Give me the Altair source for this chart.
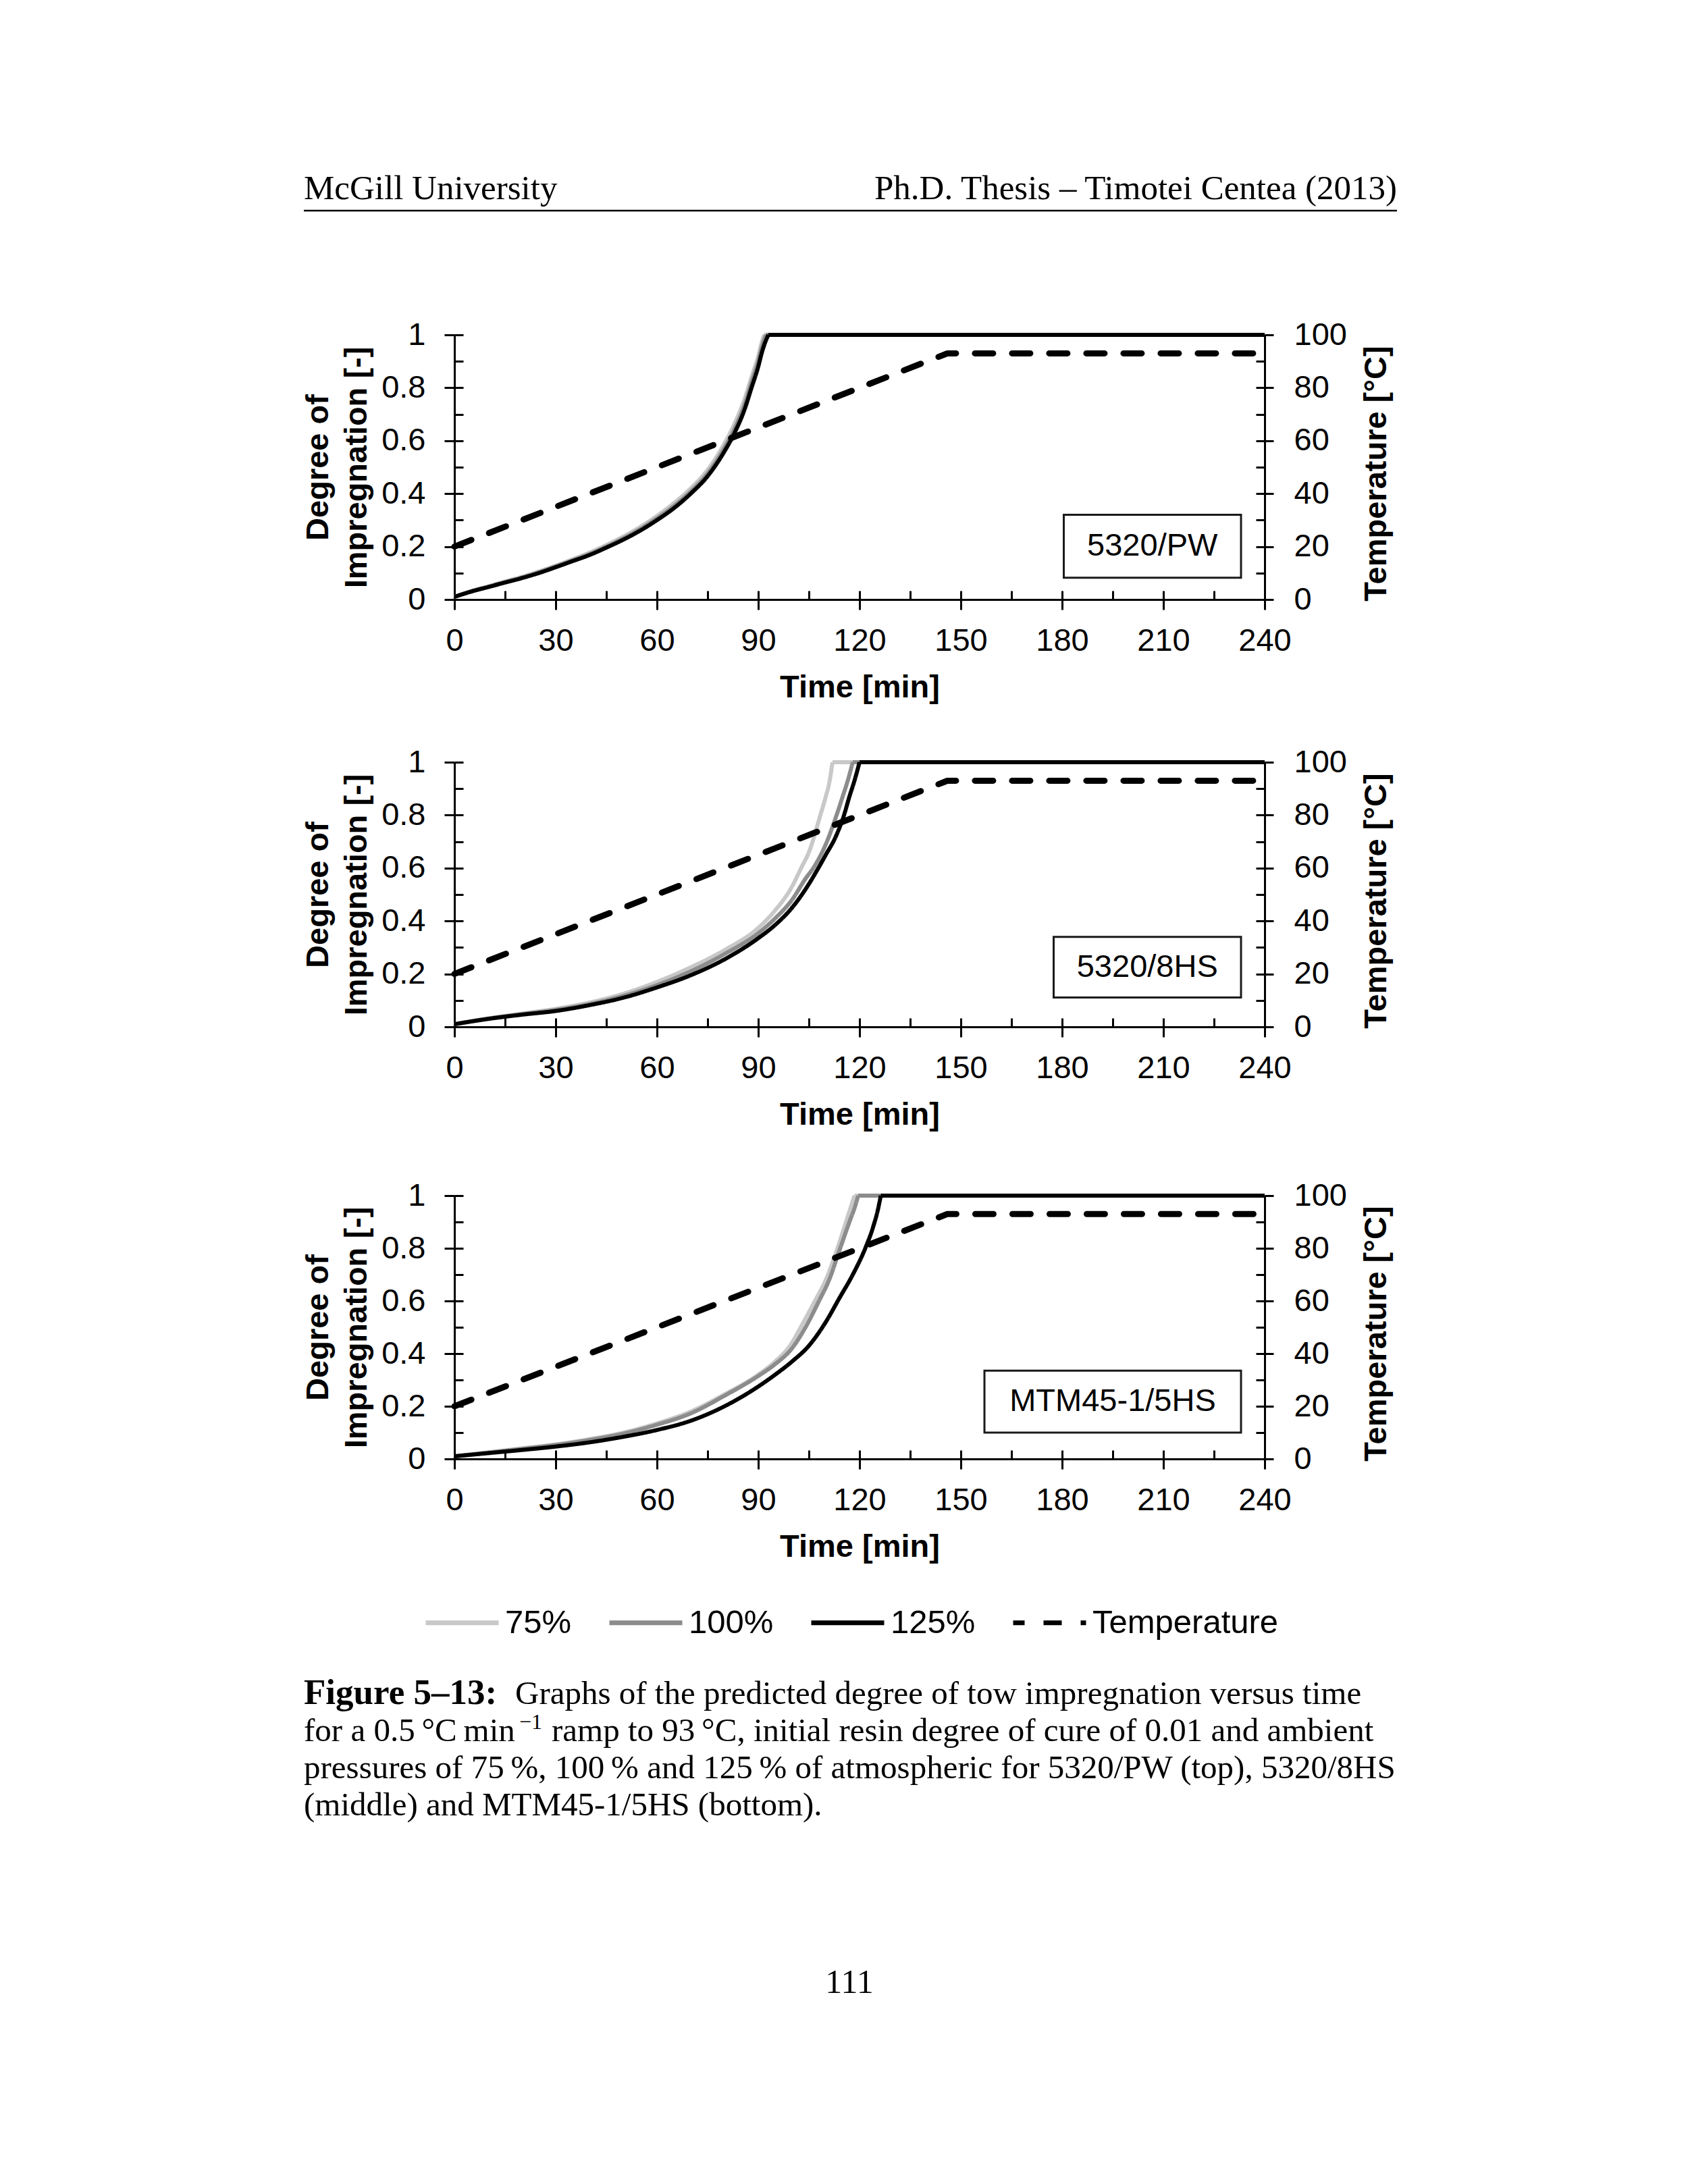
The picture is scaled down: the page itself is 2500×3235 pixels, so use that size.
import altair as alt
import pandas as pd

# ---------------- data ----------------
SERIES = ["75%", "100%", "125%", "Temperature"]
SERIES_COLORS = ["#c8c8c8", "#8c8c8c", "#000000", "#000000"]
SERIES_DASHES = [[1, 0], [1, 0], [1, 0], [27, 28]]

X_TICKS = [0, 30, 60, 90, 120, 150, 180, 210, 240]
X_MINOR = [0, 15, 30, 45, 60, 75, 90, 105, 120, 135, 150, 165, 180, 195, 210, 225, 240]
Y_TICKS = [0, 0.2, 0.4, 0.6, 0.8, 1]
Y_MINOR = [0, 0.1, 0.2, 0.3, 0.4, 0.5, 0.6, 0.7, 0.8, 0.9, 1]
T_TICKS = [0, 20, 40, 60, 80, 100]
T_MINOR = [0, 10, 20, 30, 40, 50, 60, 70, 80, 90, 100]

# temperature profile (same in all three panels)
TEMP_T = [0, 146, 240]
TEMP_V = [20, 93, 93]

# 5320/PW
PW_T75 = [0, 5, 10, 15, 20, 25, 30, 35, 40, 45, 50, 55, 60, 65, 70, 75, 80, 83, 86, 88, 90, 91, 91.8, 240]
PW_V75 = [0.01, 0.032, 0.05, 0.068, 0.086, 0.106, 0.128, 0.152, 0.177, 0.206, 0.238, 0.274, 0.316, 0.364,
          0.42, 0.49, 0.59, 0.665, 0.76, 0.84, 0.92, 0.97, 1.0, 1.0]
PW_T100 = [0, 5, 10, 15, 20, 25, 30, 35, 40, 45, 50, 55, 60, 65, 70, 75, 80, 83, 86, 88, 90, 91, 92, 92.3, 240]
PW_V100 = [0.01, 0.031, 0.048, 0.066, 0.083, 0.103, 0.125, 0.148, 0.172, 0.2, 0.231, 0.266, 0.307, 0.353,
           0.408, 0.476, 0.573, 0.645, 0.738, 0.82, 0.9, 0.95, 0.99, 1.0, 1.0]
PW_T125 = [0, 5, 10, 15, 20, 25, 30, 35, 40, 45, 50, 55, 60, 65, 70, 75, 80, 83, 86, 88, 90, 91, 92, 93, 240]
PW_V125 = [0.01, 0.03, 0.047, 0.064, 0.081, 0.1, 0.122, 0.145, 0.168, 0.196, 0.226, 0.26, 0.3, 0.345,
           0.4, 0.466, 0.56, 0.63, 0.72, 0.8, 0.88, 0.93, 0.97, 1.0, 1.0]

# 5320/8HS
HS8_T75 = [0, 10, 20, 30, 40, 50, 60, 70, 80, 90, 95, 100, 102.7, 105, 108.4, 110, 111, 112, 240]
HS8_V75 = [0.01, 0.032, 0.05, 0.068, 0.092, 0.125, 0.17, 0.225, 0.29, 0.374, 0.44, 0.53, 0.6, 0.66,
           0.8, 0.87, 0.92, 1.0, 1.0]
HS8_T100 = [0, 10, 20, 30, 40, 50, 60, 70, 80, 90, 95, 100, 104, 106.3, 110, 113.2, 115, 116.5, 118, 240]
HS8_V100 = [0.01, 0.031, 0.048, 0.064, 0.086, 0.117, 0.158, 0.21, 0.275, 0.354, 0.41, 0.48, 0.56, 0.6,
            0.69, 0.8, 0.87, 0.93, 1.0, 1.0]
HS8_T125 = [0, 10, 20, 30, 40, 50, 60, 70, 80, 90, 95, 100, 104, 107.8, 110, 113, 115.4, 117, 118.5, 120, 240]
HS8_V125 = [0.01, 0.03, 0.046, 0.06, 0.082, 0.11, 0.149, 0.195, 0.255, 0.335, 0.385, 0.45, 0.52, 0.6,
            0.65, 0.72, 0.8, 0.87, 0.93, 1.0, 1.0]

# MTM45-1/5HS
MTM_T75 = [0, 10, 20, 30, 40, 50, 60, 70, 80, 90, 95, 99.4, 103, 106.8, 110, 113.2, 116, 117.5, 118.5, 240]
MTM_V75 = [0.01, 0.025, 0.04, 0.055, 0.075, 0.1, 0.135, 0.18, 0.245, 0.32, 0.37, 0.43, 0.51, 0.6,
           0.68, 0.79, 0.9, 0.96, 1.0, 1.0]
MTM_T100 = [0, 10, 20, 30, 40, 50, 60, 70, 80, 90, 95, 100, 104, 108, 111, 114, 117, 118.7, 119.6, 240]
MTM_V100 = [0.01, 0.024, 0.038, 0.053, 0.072, 0.096, 0.13, 0.173, 0.24, 0.315, 0.36, 0.42, 0.5, 0.6,
            0.68, 0.79, 0.9, 0.96, 1.0, 1.0]
MTM_T125 = [0, 10, 20, 30, 40, 50, 60, 70, 80, 90, 95, 100, 105, 110, 114, 118, 121.7, 124, 125.5, 126.3, 240]
MTM_V125 = [0.01, 0.022, 0.034, 0.047, 0.063, 0.084, 0.11, 0.145, 0.2, 0.275, 0.32, 0.37, 0.43, 0.52,
            0.61, 0.7, 0.8, 0.88, 0.95, 1.0, 1.0]

BOX_LABELS = ["5320/PW", "5320/8HS", "MTM45-1/5HS"]
HEADER_LEFT = "McGill University"
HEADER_RIGHT = "Ph.D. Thesis \u2013 Timotei Centea (2013)"
CAPTION_BOLD = "Figure 5\u201313:"
CAPTION_1 = "Graphs of the predicted degree of tow impregnation versus time"
CAPTION_2A = "for a 0.5\u2009\u00b0C\u2009min"
CAPTION_2SUP = "\u22121"
CAPTION_2B = "ramp to 93\u2009\u00b0C, initial resin degree of cure of 0.01 and ambient"
CAPTION_3 = "pressures of 75\u2009%, 100\u2009% and 125\u2009% of atmospheric for 5320/PW (top), 5320/8HS"
CAPTION_4 = "(middle) and MTM45-1/5HS (bottom)."
PAGE_NO = "111"

# ---------------- styling ----------------
SANS = "Liberation Sans"
SERIF = "Liberation Serif"
FS = 47
PLOT_W = 1200


def curve_frame(curves):
    # each series: the rising part and the flat plateau at 1 are drawn as two
    # segments so that the corner where the curve reaches 1 stays sharp
    rows = []
    for name, ts, vs in curves:
        n = len(ts)
        for i, (t, v) in enumerate(zip(ts, vs)):
            if i < n - 1:
                rows.append({"series": name, "seg": "rise", "t": t, "v": v})
            if i >= n - 2:
                rows.append({"series": name, "seg": "flat", "t": t, "v": v})
    return pd.DataFrame(rows)


temp_df = pd.DataFrame({"series": ["Temperature"] * len(TEMP_T), "t": TEMP_T, "v": TEMP_V})


def text_layer(txt, x, y, size=50, weight="normal", align="left", font=SERIF):
    return alt.Chart(alt.Data(values=[{"a": 1}])).mark_text(
        text=txt, align=align, baseline="alphabetic", font=font, fontSize=size,
        fontWeight=weight, color="black"
    ).encode(x=alt.value(x), y=alt.value(y))


def axis_common(**kw):
    base = dict(grid=False, tickColor="black", domainColor="black", tickWidth=3, domainWidth=3,
                labelFont=SANS, labelFontSize=FS, labelColor="black",
                titleFont=SANS, titleFontSize=FS, titleFontWeight="bold", titleColor="black")
    base.update(kw)
    return alt.Axis(**base)


def panel(curves, box, label, height, legend_on, extras):
    xscale = alt.Scale(domain=[0, 240], nice=False, zero=False)
    yscale = alt.Scale(domain=[0, 1], nice=False)
    tscale = alt.Scale(domain=[0, 100], nice=False)
    color_scale = alt.Scale(domain=SERIES, range=SERIES_COLORS)
    dash_scale = alt.Scale(domain=SERIES, range=SERIES_DASHES)
    if legend_on:
        leg = alt.Legend(orient="none", legendX=-46, legendY=575, direction="horizontal", columns=4,
                         title=None, labelFont=SANS, labelFontSize=49, labelColor="black",
                         labelLimit=500, symbolType="stroke", symbolSize=11664, symbolStrokeWidth=7,
                         symbolDashOffset=10, labelOffset=6, columnPadding=41, padding=0)
        color = alt.Color("series:N", scale=color_scale, legend=leg)
        dash = alt.StrokeDash("series:N", scale=dash_scale, legend=leg)
    else:
        color = alt.Color("series:N", scale=color_scale, legend=None)
        dash = alt.StrokeDash("series:N", scale=dash_scale, legend=None)

    x_main = axis_common(orient="bottom", values=X_TICKS, tickSize=15, labelPadding=23, labelFlush=False,
                         labelOverlap=False, title="Time [min]", titleBaseline="alphabetic",
                         titleAlign="center", titleX=PLOT_W / 2, titleY=144)
    y_main = axis_common(orient="left", values=Y_TICKS, format="~g", tickSize=15, labelPadding=28,
                         labelOverlap=False, labelFlush=False,
                         title=["Degree of", "Impregnation [-]"], titleAngle=270,
                         titleBaseline="alphabetic", titleAlign="center", titleX=-188,
                         titleY=height / 2, titleLineHeight=57)
    t_main = axis_common(orient="right", values=T_TICKS, tickSize=13, labelPadding=30,
                         labelOverlap=False, labelFlush=False,
                         title="Temperature [\u00b0C]", titleAngle=270, titleBaseline="alphabetic",
                         titleAlign="center", titleX=179, titleY=height / 2 + 9)
    x_in = axis_common(orient="bottom", values=X_MINOR, tickSize=13, offset=-13, labels=False,
                       domain=False, title=None)
    y_in = axis_common(orient="left", values=Y_MINOR, tickSize=13, offset=-13, labels=False,
                       domain=False, title=None)
    t_in = axis_common(orient="right", values=T_MINOR, tickSize=13, offset=-13, labels=False,
                       domain=False, title=None)

    lines = alt.Chart(curve_frame(curves)).mark_line(
        strokeWidth=6, strokeJoin="round", interpolate="monotone").encode(
        x=alt.X("t:Q", scale=xscale, axis=x_main),
        y=alt.Y("v:Q", scale=yscale, axis=y_main),
        color=color, strokeDash=dash, detail="seg:N")
    temp = alt.Chart(temp_df).mark_line(strokeWidth=9, strokeCap="round", strokeJoin="round").encode(
        x=alt.X("t:Q", scale=xscale, axis=None),
        y=alt.Y("v:Q", scale=tscale, axis=t_main),
        color=color, strokeDash=dash)
    rect = alt.Chart(alt.Data(values=[{"a": 1}])).mark_rect(
        fill="white", stroke="#1a1a1a", strokeWidth=3).encode(
        x=alt.XDatum(box[0], type="quantitative", scale=xscale, axis=x_in),
        x2=alt.X2Datum(box[1]),
        y=alt.YDatum(box[2], type="quantitative", scale=yscale, axis=y_in),
        y2=alt.Y2Datum(box[3]))
    lab = alt.Chart(alt.Data(values=[{"a": 1}])).mark_text(
        text=label, font=SANS, fontSize=FS, color="black", baseline="middle", align="center").encode(
        x=alt.XDatum((box[0] + box[1]) / 2, type="quantitative", scale=xscale, axis=None),
        y=alt.YDatum((box[2] + box[3]) * 50, type="quantitative", scale=tscale, axis=t_in))
    return alt.layer(lines, temp, rect, lab, *extras).resolve_scale(
        y="independent").resolve_axis(x="independent", y="independent").properties(
        width=PLOT_W, height=height)


header = [
    text_layer(HEADER_LEFT, -223, -201, size=51),
    text_layer(HEADER_RIGHT, 1396, -201, size=51, align="right"),
    alt.Chart(alt.Data(values=[{"a": 1}])).mark_rule(color="black", strokeWidth=2.5).encode(
        x=alt.value(-223), x2=alt.value(1396), y=alt.value(-184)),
]
caption = [
    text_layer(CAPTION_BOLD, -223, 753, size=53, weight="bold"),
    text_layer(CAPTION_1, 90, 753, size=49),
    text_layer(CAPTION_2A, -223, 808, size=49),
    text_layer(CAPTION_2SUP, 96, 790, size=32),
    text_layer(CAPTION_2B, 144, 808, size=49),
    text_layer(CAPTION_3, -223, 863, size=49),
    text_layer(CAPTION_4, -223, 918, size=49),
    text_layer(PAGE_NO, 585, 1181, size=50, align="center"),
]

p1 = panel([("75%", PW_T75, PW_V75), ("100%", PW_T100, PW_V100), ("125%", PW_T125, PW_V125)],
           (180.5, 233, 0.32, 0.082), BOX_LABELS[0], 392, False, header)
p2 = panel([("75%", HS8_T75, HS8_V75), ("100%", HS8_T100, HS8_V100), ("125%", HS8_T125, HS8_V125)],
           (177.5, 233, 0.34, 0.111), BOX_LABELS[1], 392, False, [])
p3 = panel([("75%", MTM_T75, MTM_V75), ("100%", MTM_T100, MTM_V100), ("125%", MTM_T125, MTM_V125)],
           (157, 233, 0.335, 0.1), BOX_LABELS[2], 390, True, caption)

inner = alt.vconcat(p1, p2, spacing=64).resolve_scale(color="independent", strokeDash="independent")
chart = alt.vconcat(inner, p3, spacing=73).resolve_scale(
    color="independent", strokeDash="independent").properties(
    padding={"left": 439, "top": 246, "right": 0, "bottom": 0}, background="white"
).configure_view(strokeWidth=0)

chart.save("out.html", embed_options={"renderer": "svg", "actions": False})
